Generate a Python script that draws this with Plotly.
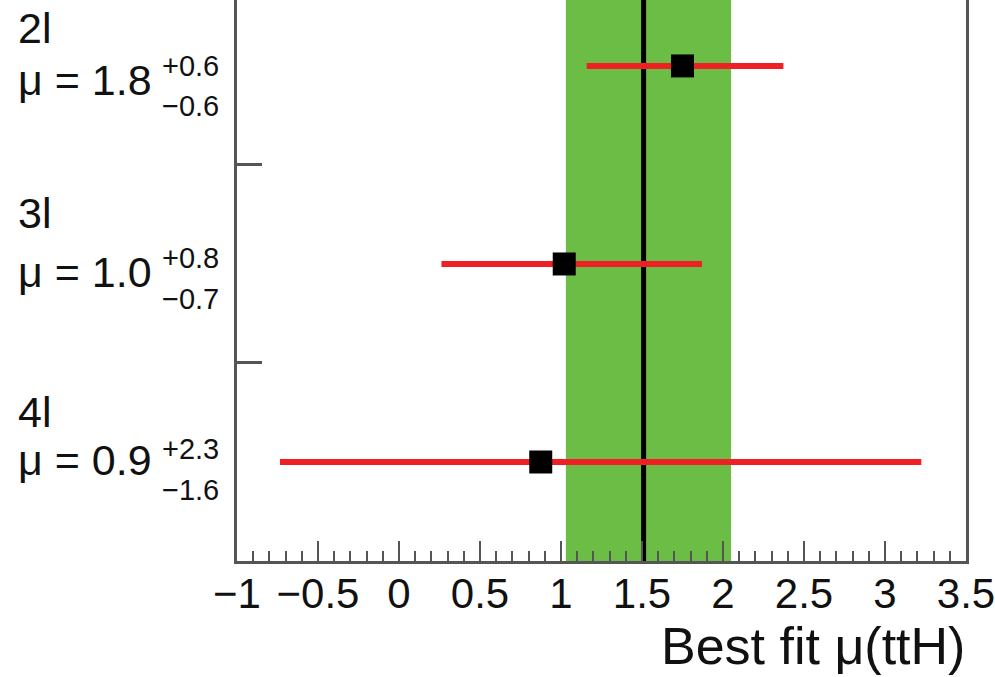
import plotly.graph_objects as go

# ---- data ----
channels = ["4l", "3l", "2l"]
ypos = [0, 1, 2]
mu_best = [0.875, 1.02, 1.75]
err_up = [3.224 - 0.875, 1.87 - 1.02, 2.373 - 1.75]
err_dn = [0.875 + 0.735, 1.02 - 0.262, 1.75 - 1.159]
label_mu = ["0.9", "1.0", "1.8"]
label_up = ["+2.3", "+0.8", "+0.6"]
label_dn = ["\u22121.6", "\u22120.7", "\u22120.6"]
combined_mu = 1.51
combined_lo = 1.03
combined_hi = 2.05
x_ticks = [-1, -0.5, 0, 0.5, 1, 1.5, 2, 2.5, 3, 3.5]

W, H = 995, 677
L, R, T, B = 237, 968, 0, 561
FONT = "Liberation Sans, Arial, sans-serif"
TXT = "#111111"


def px(xp):
    return (xp - L) / (R - L)


def py(yp):
    return (B - yp) / (B - T)


fig = go.Figure()
fig.add_trace(go.Scatter(
    x=mu_best, y=ypos, mode="markers",
    marker=dict(symbol="square", size=23, color="black"),
    error_x=dict(type="data", symmetric=False, array=err_up, arrayminus=err_dn,
                 color="#ee2024", thickness=6, width=0),
    showlegend=False, hoverinfo="x+y",
))

fig.add_shape(type="rect", xref="x", yref="paper", x0=combined_lo, x1=combined_hi,
              y0=0, y1=1, fillcolor="#6cbd45", line=dict(width=0), layer="below")
fig.add_shape(type="line", xref="x", yref="paper", x0=combined_mu, x1=combined_mu,
              y0=0, y1=1, line=dict(color="black", width=5), layer="below")

# left labels (layout positions in pixels)
lab_y = {"2l": (28, 80, 66, 106), "3l": (213, 272, 258, 299), "4l": (412, 460, 449, 490)}
for ch, m, u, d in zip(channels, label_mu, label_up, label_dn):
    yc, ym, yu, yd = lab_y[ch]
    fig.add_annotation(x=px(15), y=py(yc), xref="paper", yref="paper", text=ch,
                       showarrow=False, xanchor="left", yanchor="middle",
                       font=dict(family=FONT, size=43, color=TXT))
    fig.add_annotation(x=px(15), y=py(ym), xref="paper", yref="paper", text="\u03bc = " + m,
                       showarrow=False, xanchor="left", yanchor="middle",
                       font=dict(family=FONT, size=43, color=TXT))
    fig.add_annotation(x=px(160), y=py(yu), xref="paper", yref="paper", text=u,
                       showarrow=False, xanchor="left", yanchor="middle",
                       font=dict(family=FONT, size=29, color=TXT))
    fig.add_annotation(x=px(160), y=py(yd), xref="paper", yref="paper", text=d,
                       showarrow=False, xanchor="left", yanchor="middle",
                       font=dict(family=FONT, size=29, color=TXT))

fig.add_annotation(x=px(968), y=py(646), xref="paper", yref="paper",
                   text="Best fit \u03bc(ttH)", showarrow=False,
                   xanchor="right", yanchor="middle", borderpad=0,
                   font=dict(family=FONT, size=52, color=TXT))

fig.update_xaxes(range=[-1, 3.5001], tickvals=x_ticks, ticks="inside", ticklen=20,
                 tickwidth=2, tickcolor="#555555",
                 minor=dict(dtick=0.1, tick0=0, ticks="inside", ticklen=10,
                            tickwidth=2, tickcolor="#555555"),
                 showline=True, linecolor="#555555", linewidth=3, mirror=False,
                 showgrid=False, zeroline=False, ticklabeloverflow="allow",
                 ticklabelstandoff=-6,
                 tickfont=dict(family=FONT, size=42, color=TXT))
fig.update_yaxes(range=[-0.5, 2.333], tickvals=[0.5, 1.5], ticks="inside", ticklen=25,
                 tickwidth=3, tickcolor="#555555", showticklabels=False,
                 showline=True, linecolor="#555555", linewidth=3, mirror=True,
                 showgrid=False, zeroline=False)

fig.update_layout(width=W, height=H,
                  margin=dict(l=L, r=W - R, t=T, b=H - B),
                  paper_bgcolor="white", plot_bgcolor="white",
                  font=dict(family=FONT, color=TXT))

fig.write_html("out.html")
